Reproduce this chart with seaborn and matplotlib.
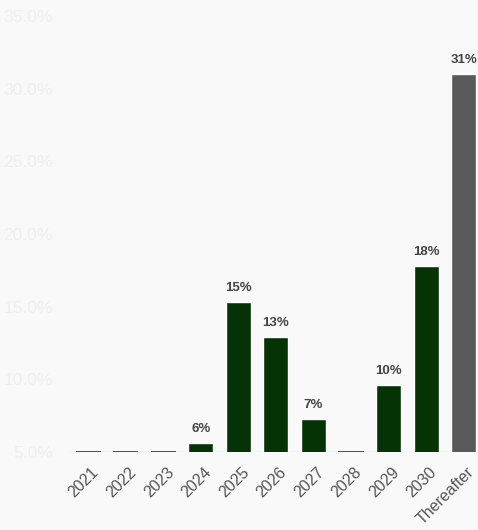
import matplotlib
matplotlib.use("Agg")
import matplotlib.pyplot as plt
import matplotlib.transforms as mtransforms
import seaborn as sns
import pandas as pd

categories = ["2021", "2022", "2023", "2024", "2025", "2026", "2027", "2028", "2029", "2030", "Thereafter"]
values = [0, 0, 0, 5.6, 15.3, 12.9, 7.3, 0, 9.6, 17.8, 31.0]
bar_colors = ["#053305"] * 10 + ["#595959"]
yticks = [5, 10, 15, 20, 25, 30, 35]

sns.set_theme(style="white")
plt.rcParams["font.family"] = ["Liberation Sans", "DejaVu Sans"]

bg = "#f9f9f9"
fig = plt.figure(figsize=(4.78, 5.30), dpi=100, facecolor=bg)
ax = fig.add_axes([0.145, 0.147, 0.855, 0.823], facecolor=bg)

df = pd.DataFrame({"cat": categories, "val": values})
sns.barplot(data=df, x="cat", y="val", hue="cat", palette=bar_colors, legend=False,
            width=0.67, ax=ax, saturation=1)

ax.set_ylim(5, 35)
ax.set_xlim(-0.5, 10.38)
ax.set_yticks(yticks)
ax.set_yticklabels([f"{t:.1f}%" for t in yticks], color="#efefef", fontsize=12.5)
ax.tick_params(axis="y", length=0, pad=12)
ax.tick_params(axis="x", length=0, pad=9)
offset = mtransforms.ScaledTranslation(3 / 100, 0, fig.dpi_scale_trans)
for lbl in ax.get_xticklabels():
    lbl.set_rotation(45)
    lbl.set_ha("right")
    lbl.set_va("top")
    lbl.set_rotation_mode("anchor")
    lbl.set_color("#555555")
    lbl.set_fontsize(11.5)
    lbl.set_transform(lbl.get_transform() + offset)
ax.set_xlabel("")
ax.set_ylabel("")
for s in ax.spines.values():
    s.set_visible(False)
ax.axhline(5, color="#d8d8d8", lw=1, zorder=0)

for i, v in enumerate(values):
    if v == 0:
        ax.hlines(5, i - 0.335, i + 0.335, color="#333333", lw=1.2, zorder=3)
    else:
        ax.text(i, v + 0.55, f"{v:.0f}%", ha="center", va="bottom",
                fontsize=9.5, fontweight="bold", color="#444444")

fig.savefig("out.png", dpi=100, facecolor=bg)
